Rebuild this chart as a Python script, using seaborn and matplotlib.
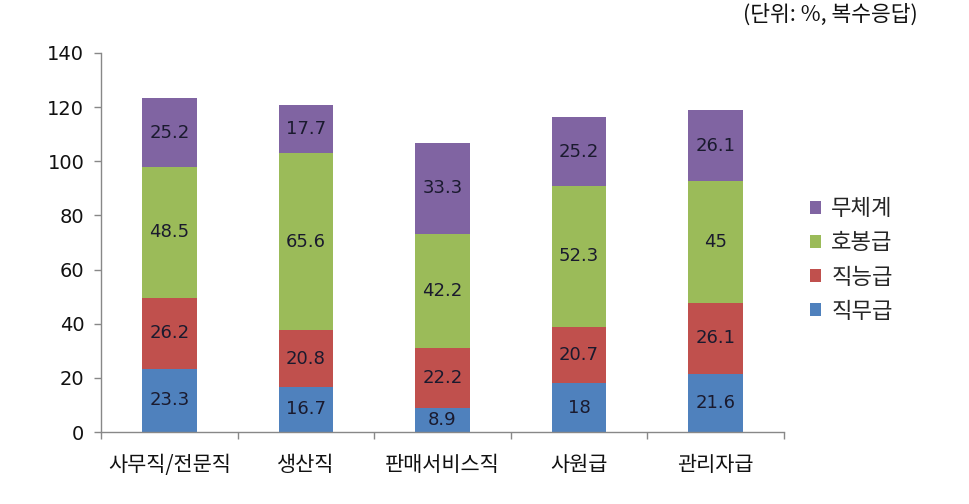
import numpy as np
import pandas as pd
import matplotlib
matplotlib.use("Agg")
import matplotlib.pyplot as plt
import seaborn as sns
from matplotlib.patches import Patch

categories = ["사무직/전문직", "생산직", "판매서비스직", "사원급", "관리자급"]
series_names = ["직무급", "직능급", "호봉급", "무체계"]
jikmu = [23.3, 16.7, 8.9, 18, 21.6]
jikneung = [26.2, 20.8, 22.2, 20.7, 26.1]
hobong = [48.5, 65.6, 42.2, 52.3, 45]
muchegye = [25.2, 17.7, 33.3, 25.2, 26.1]
label_text = [
    ["23.3", "16.7", "8.9", "18", "21.6"],
    ["26.2", "20.8", "22.2", "20.7", "26.1"],
    ["48.5", "65.6", "42.2", "52.3", "45"],
    ["25.2", "17.7", "33.3", "25.2", "26.1"],
]
yticks = [0, 20, 40, 60, 80, 100, 120, 140]
colors = ["#4F81BD", "#C0504D", "#9BBB59", "#8064A2"]

sns.set_theme(style="white")
plt.rcParams["font.family"] = ["Noto Sans CJK KR", "DejaVu Sans"]

fig = plt.figure(figsize=(9.69, 5.04), dpi=100)
ax = fig.add_axes([101/969, 1 - 432/504, (784 - 101)/969, (432 - 53)/504])

values = [jikmu, jikneung, hobong, muchegye]
cum = np.cumsum(np.array(values, dtype=float), axis=0)

# draw from the top layer down so each layer covers the one above it
for i in range(3, -1, -1):
    df = pd.DataFrame({"cat": categories, "val": cum[i]})
    sns.barplot(data=df, x="cat", y="val", color=colors[i], saturation=1,
                width=0.4, ax=ax, order=categories, linewidth=0)

bottoms = np.vstack([np.zeros(len(categories)), cum[:-1]])
for i in range(4):
    for j in range(len(categories)):
        y = bottoms[i][j] + values[i][j] / 2
        ax.text(j, y, label_text[i][j], ha="center", va="center",
                fontsize=13, color="#1a1a2e",
                family=["DejaVu Sans"])

ax.set_ylim(0, 140)
ax.set_xlim(-0.5, len(categories) - 0.5)
ax.set_yticks(yticks)
ax.set_yticklabels([str(t) for t in yticks], fontsize=14, family=["DejaVu Sans"])
ax.set_xticks(range(len(categories)))
ax.set_xticklabels(categories, fontsize=15)
ax.set_xlabel("")
ax.set_ylabel("")

for s in ["top", "right"]:
    ax.spines[s].set_visible(False)
for s in ["left", "bottom"]:
    ax.spines[s].set_color("#888888")
    ax.spines[s].set_linewidth(1)

ax.tick_params(axis="y", which="major", left=True, length=5, width=1,
               color="#888888", pad=7, labelcolor="#111111")
ax.tick_params(axis="x", which="major", bottom=False, pad=10, labelcolor="#111111")
# category boundary ticks
ax.set_xticks(np.arange(-0.5, len(categories), 1.0), minor=True)
ax.tick_params(axis="x", which="minor", bottom=True, length=5, width=1,
               color="#888888")

handles = [Patch(facecolor=colors[i], edgecolor="none") for i in range(3, -1, -1)]
labels = [series_names[i] for i in range(3, -1, -1)]
fig.legend(handles, labels, loc="center left", bbox_to_anchor=(790/969, 1 - 260/504),
           frameon=False, fontsize=16, handlelength=0.5, handleheight=0.5,
           handletextpad=0.45, labelspacing=0.5)

fig.text(918/969, 1 - 15/504, "(단위: %, 복수응답)", ha="right", va="center",
         fontsize=15.5, color="#111111")

fig.savefig("out.png", dpi=100, facecolor="white")
